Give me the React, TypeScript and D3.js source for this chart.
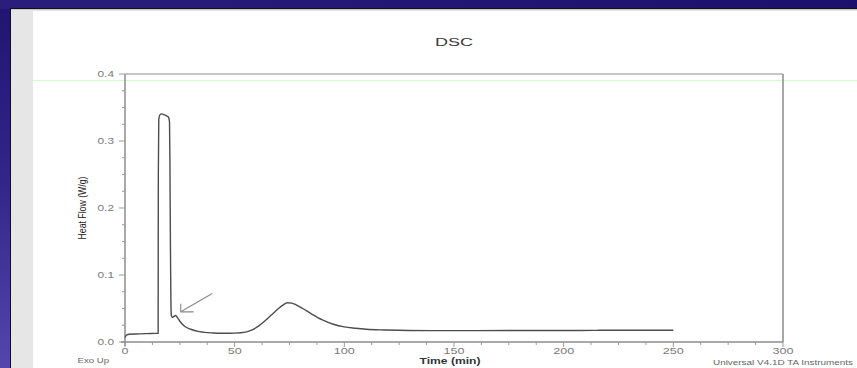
import React from "react";
import * as d3 from "d3";

// DSC heat-flow trace: time (min) vs heat flow (W/g)
const timeMin = [
  0, 0.8, 2, 5, 10, 14, 15.1, 15.2, 15.4, 15.9, 16.8, 18, 19.2, 19.9, 20.3, 20.5,
  20.7, 20.9, 21.1, 21.5, 22.2, 23, 23.8, 25, 27, 30, 34, 40, 45, 50, 55, 58, 61,
  64, 67, 70, 72, 74, 76, 78, 81, 85, 90, 95, 100, 105, 110, 118, 125, 140, 160,
  180, 200, 214, 216, 235, 250,
];
const heatFlow = [
  0.007, 0.0105, 0.0115, 0.012, 0.0125, 0.0128, 0.013, 0.25, 0.332, 0.339, 0.3405,
  0.339, 0.337, 0.335, 0.328, 0.26, 0.15, 0.07, 0.04, 0.037, 0.038, 0.0395, 0.037,
  0.031, 0.024, 0.019, 0.0155, 0.0135, 0.013, 0.0133, 0.0148, 0.018, 0.024, 0.032,
  0.041, 0.05, 0.055, 0.0585, 0.058, 0.0555, 0.05, 0.042, 0.033, 0.0265, 0.0225,
  0.0205, 0.019, 0.018, 0.0175, 0.017, 0.017, 0.0171, 0.0172, 0.0173, 0.0175,
  0.0175, 0.0175,
];

const xTicks = [0, 50, 100, 150, 200, 250, 300];
const yTicks = [0.0, 0.1, 0.2, 0.3, 0.4];

// Annotation arrow (time, heat flow): tail then tip
const arrowTail = [39.8, 0.0725];
const arrowTip = [25.4, 0.045];

const W = 857;
const H = 368;
const plot = { left: 125, right: 783, top: 74, bottom: 342 };
const FONT = "'Liberation Sans', Arial, Helvetica, sans-serif";

export default function App() {
  const x = d3.scaleLinear().domain([0, 300]).range([plot.left, plot.right]);
  const y = d3.scaleLinear().domain([0, 0.4]).range([plot.bottom, plot.top]);

  const pts = timeMin.map((t, i) => [t, heatFlow[i]] as [number, number]);
  const line = d3
    .line<[number, number]>()
    .x((d) => x(d[0]))
    .y((d) => y(d[1]))
    .curve(d3.curveMonotoneX);

  const xMinor = d3.range(0, 300.01, 12.5);
  const yMinor = d3.range(0, 0.4001, 0.025);

  const tipX = x(arrowTip[0]);
  const tipY = y(arrowTip[1]);

  return (
    <svg
      width={W}
      height={H}
      style={{ position: "absolute", left: 0, top: 0, display: "block" }}
    >
      <defs>
        <linearGradient id="slideBg" x1="0" y1="0" x2="0" y2="1">
          <stop offset="0" stopColor="#21146f" />
          <stop offset="0.5" stopColor="#33258a" />
          <stop offset="1" stopColor="#5546ad" />
        </linearGradient>
        <linearGradient id="topBand" x1="0" y1="0" x2="1" y2="0">
          <stop offset="0" stopColor="#2a1d7c" />
          <stop offset="1" stopColor="#1c106d" />
        </linearGradient>
      </defs>

      {/* slide background */}
      <rect x={0} y={0} width={W} height={H} fill="url(#slideBg)" />
      <rect x={0} y={0} width={W} height={9} fill="url(#topBand)" />

      {/* white panel with dark edge and gray side strip */}
      <rect x={10} y={8} width={W - 10} height={H - 8} fill="#111" />
      <rect x={11} y={9} width={W - 11} height={H - 9} fill="#ffffff" />
      <rect x={11} y={9} width={W - 11} height={1.5} fill="#c8c8c8" />
      <rect x={11} y={10} width={22} height={H - 10} fill="#e6e6e6" />

      {/* faint green guide */}
      <line x1={33} x2={W} y1={80.5} y2={80.5} stroke="#dcf7d4" strokeWidth={1} />

      {/* title */}
      <text
        x={454}
        y={46}
        textAnchor="middle"
        fontFamily={FONT}
        fontSize={11}
        fill="#3a3a3a"
        textLength={38}
        lengthAdjust="spacingAndGlyphs"
      >
        DSC
      </text>

      {/* frame */}
      <line x1={plot.left} x2={plot.right} y1={plot.top} y2={plot.top} stroke="#b4b4b4" strokeWidth={1.5} />
      <line x1={plot.right} x2={plot.right} y1={plot.top} y2={plot.bottom} stroke="#8a8a8a" strokeWidth={1.5} />

      {/* y axis */}
      <line x1={plot.left} x2={plot.left} y1={plot.top} y2={plot.bottom + 4} stroke="#8c8c8c" strokeWidth={1.5} />
      {yMinor.map((v, i) => (
        <line
          key={"ym" + i}
          x1={plot.left - (i % 4 === 0 ? 6 : 3)}
          x2={plot.left}
          y1={y(v)}
          y2={y(v)}
          stroke="#999"
          strokeWidth={1}
        />
      ))}
      {yTicks.map((v) => (
        <text
          key={"yt" + v}
          x={114}
          y={y(v) + 3.2}
          textAnchor="end"
          fontFamily={FONT}
          fontSize={9.5}
          fill="#7a7a7a"
          textLength={16.5}
          lengthAdjust="spacingAndGlyphs"
        >
          {v.toFixed(1)}
        </text>
      ))}

      {/* x axis */}
      <line x1={plot.left - 4} x2={plot.right} y1={plot.bottom} y2={plot.bottom} stroke="#8c8c8c" strokeWidth={1.5} />
      {xMinor.map((v, i) => (
        <line
          key={"xm" + i}
          x1={x(v)}
          x2={x(v)}
          y1={plot.bottom}
          y2={plot.bottom + (i % 4 === 0 ? 5 : 3)}
          stroke="#999"
          strokeWidth={1}
        />
      ))}
      {xTicks.map((v) => (
        <text
          key={"xt" + v}
          x={x(v)}
          y={353.5}
          textAnchor="middle"
          fontFamily={FONT}
          fontSize={9.5}
          fill="#7a7a7a"
          textLength={v === 0 ? 7 : v < 100 ? 14 : 21}
          lengthAdjust="spacingAndGlyphs"
        >
          {v}
        </text>
      ))}

      {/* axis titles */}
      <text
        x={450}
        y={364}
        textAnchor="middle"
        fontFamily={FONT}
        fontSize={9.5}
        fontWeight="bold"
        fill="#333"
        textLength={61}
        lengthAdjust="spacingAndGlyphs"
      >
        Time (min)
      </text>
      <text
        transform={`translate(85.5,208) rotate(-90)`}
        textAnchor="middle"
        fontFamily={FONT}
        fontSize={10}
        fill="#222"
        textLength={63}
        lengthAdjust="spacingAndGlyphs"
      >
        Heat Flow (W/g)
      </text>
      <text
        x={77.5}
        y={363}
        fontFamily={FONT}
        fontSize={7}
        fill="#666"
        textLength={31.5}
        lengthAdjust="spacingAndGlyphs"
      >
        Exo Up
      </text>
      <text
        x={713}
        y={364.5}
        fontFamily={FONT}
        fontSize={7}
        fill="#666"
        textLength={140}
        lengthAdjust="spacingAndGlyphs"
      >
        Universal V4.1D TA Instruments
      </text>

      {/* heat flow curve */}
      <path d={line(pts) || ""} fill="none" stroke="#4d4d4d" strokeWidth={1.4} />

      {/* annotation arrow */}
      <g stroke="#8a8a8a" strokeWidth={1.1} fill="none">
        <line x1={x(arrowTail[0])} y1={y(arrowTail[1])} x2={tipX} y2={tipY} />
        <polyline points={`${tipX},${tipY - 8} ${tipX},${tipY} ${tipX + 13},${tipY}`} />
      </g>
    </svg>
  );
}
